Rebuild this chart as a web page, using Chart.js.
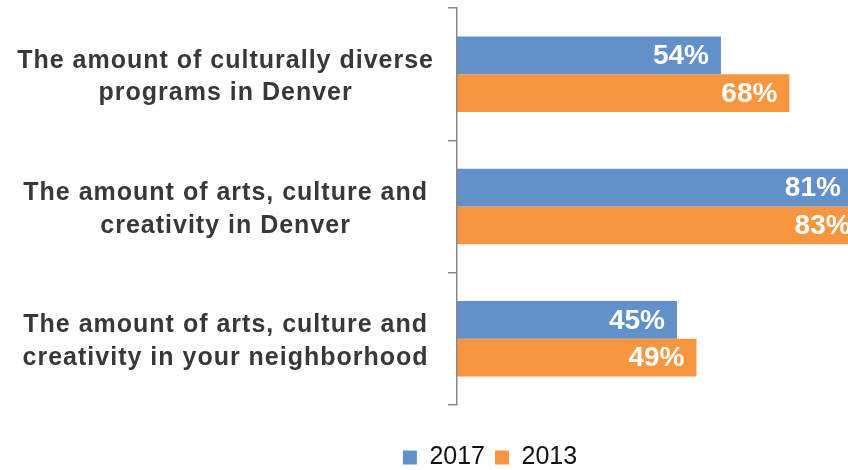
<!DOCTYPE html>
<html>
<head>
<meta charset="utf-8">
<title>Arts and culture in Denver</title>
<script src="https://cdn.jsdelivr.net/npm/chart.js@4/dist/chart.umd.min.js"></script>
<style>
  html, body { margin: 0; padding: 0; background: #fff; }
  #wrap { width: 848px; height: 470px; position: relative; }
</style>
</head>
<body>
<div id="wrap"><canvas id="ratingChart"></canvas></div>
<script>
// survey items, two lines each, listed top to bottom
const categories = [
  ['The amount of culturally diverse', 'programs in Denver'],
  ['The amount of arts, culture and', 'creativity in Denver'],
  ['The amount of arts, culture and', 'creativity in your neighborhood']
];
const seriesNames = ['2017', '2013'];
const values2017 = [54, 81, 45];
const values2013 = [68, 83, 49];
const seriesColors = ['#6290c8', '#f7963f'];

const fontFamily = '"Liberation Sans", Arial, sans-serif';
const axisGray = '#878787';
const plotLeft = 457;
const legendLeft = 132;

// white percent labels inside the end of each bar
const barValueLabels = {
  id: 'barValueLabels',
  afterLayout(chart) {
    // legend sits a bit right of the page centre
    chart.legend.left = legendLeft;
  },
  afterDatasetsDraw(chart) {
    const ctx = chart.ctx;
    ctx.save();
    ctx.font = 'bold 28px ' + fontFamily;
    ctx.fillStyle = '#ffffff';
    ctx.textAlign = 'right';
    ctx.textBaseline = 'middle';
    chart.data.datasets.forEach((ds, i) => {
      chart.getDatasetMeta(i).data.forEach((bar, j) => {
        ctx.fillText(ds.data[j] + '%', bar.x - 12, bar.y + 1);
      });
    });
    ctx.restore();
    // category labels come next (ticks.z = 1), drawn a little spaced out
    ctx.letterSpacing = '1px';
  },
  afterDraw(chart) {
    chart.ctx.letterSpacing = '0px';
  }
};

new Chart(document.getElementById('ratingChart'), {
  type: 'bar',
  data: {
    labels: categories,
    datasets: [
      { label: seriesNames[0], data: values2017, backgroundColor: seriesColors[0] },
      { label: seriesNames[1], data: values2013, backgroundColor: seriesColors[1] }
    ]
  },
  options: {
    indexAxis: 'y',
    responsive: true,
    maintainAspectRatio: false,
    animation: false,
    datasets: {
      bar: { categoryPercentage: 0.57, barPercentage: 1.0 }
    },
    layout: { padding: { top: 8, left: 0, right: 0, bottom: -10 } },
    scales: {
      x: {
        min: 0,
        max: 80,
        ticks: { display: false },
        grid: { display: false },
        border: { display: false },
        afterFit(scale) { scale.height = 30; }
      },
      y: {
        grid: {
          display: true,
          drawOnChartArea: false,
          drawTicks: true,
          tickLength: 9,
          color: axisGray,
          lineWidth: 1.5,
          offset: true
        },
        border: { display: true, color: axisGray, width: 1.5, z: 1 },
        ticks: {
          z: 1,
          crossAlign: 'center',
          padding: 30,
          labelOffset: 3,
          color: '#383838',
          font: { family: fontFamily, size: 25, weight: 'bold', lineHeight: 1.3 }
        },
        afterFit(scale) {
          scale.width = plotLeft;
          scale.paddingTop = 0;
          scale.paddingBottom = 0;
        }
      }
    },
    plugins: {
      legend: {
        position: 'bottom',
        labels: {
          boxWidth: 14,
          boxHeight: 14,
          padding: 10,
          color: '#111111',
          font: { family: fontFamily, size: 25 }
        }
      },
      tooltip: { enabled: false }
    }
  },
  plugins: [barValueLabels]
});
</script>
</body>
</html>
